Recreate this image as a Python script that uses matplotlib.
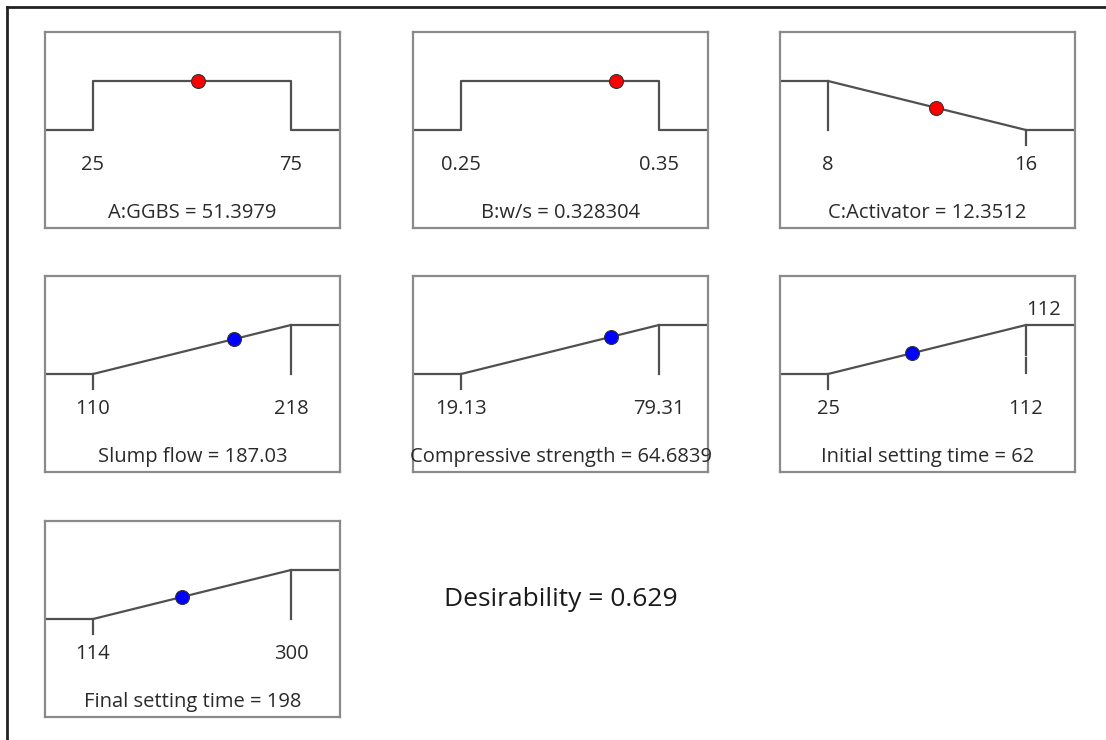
import numpy as np
import matplotlib.pyplot as plt

plt.rcParams['font.family'] = ['Open Sans', 'DejaVu Sans']

# factors (in range) and responses (ramps)
names = ["A:GGBS", "B:w/s", "C:Activator", "Slump flow", "Compressive strength",
         "Initial setting time", "Final setting time"]
low = [25, 0.25, 8, 110, 19.13, 25, 114]
high = [75, 0.35, 16, 218, 79.31, 112, 300]
low_text = ["25", "0.25", "8", "110", "19.13", "25", "114"]
high_text = ["75", "0.35", "16", "218", "79.31", "112", "300"]
value = [51.3979, 0.328304, 12.3512, 187.03, 64.6839, 62, 198]
value_text = ["51.3979", "0.328304", "12.3512", "187.03", "64.6839", "62", "198"]
goal = ["range", "range", "min", "max", "max", "max", "max"]
desirability = 0.629

W, H = 1106, 740
fig = plt.figure(figsize=(W / 100, H / 100), dpi=100)

# outer frame (left and top only)
fig.add_artist(plt.Line2D([7 / W, 7 / W], [0, 1 - 7 / H], color="#222222", lw=2))
fig.add_artist(plt.Line2D([7 / W, 1], [1 - 7 / H, 1 - 7 / H], color="#222222", lw=2))

cols = [45, 413, 780]
rows = [32, 276, 521]
pw, ph = 295, 196
f_lo, f_hi = 48 / pw, 246 / pw
line_c = "#505050"
box_c = "#8a8a8a"
txt_c = "#2a2a2a"

for i in range(7):
    x0 = cols[i % 3]
    y0 = rows[i // 3]
    ax = fig.add_axes([x0 / W, 1 - (y0 + ph) / H, pw / W, ph / H])
    lo, hi = low[i], high[i]
    span = (hi - lo) / (f_hi - f_lo)
    xmin = lo - f_lo * span
    xmax = xmin + span
    ax.set_xlim(xmin, xmax)
    ax.set_ylim(-2, 2)
    ax.set_xticks([])
    ax.set_yticks([])
    for s in ax.spines.values():
        s.set_color(box_c)
        s.set_linewidth(1.6)

    if goal[i] == "range":
        xs = [xmin, lo, lo, hi, hi, xmax]
        ys = [0, 0, 1, 1, 0, 0]
        d = 1.0
    else:
        if goal[i] == "max":
            xs = [xmin, lo, hi, xmax]
            ys = [0, 0, 1, 1]
        else:
            xs = [xmin, lo, hi, xmax]
            ys = [1, 1, 0, 0]
        d = np.interp(value[i], [lo, hi], [ys[1], ys[2]])
        # limit ticks
        top_x = hi if goal[i] == "max" else lo
        bot_x = lo if goal[i] == "max" else hi
        ax.plot([bot_x, bot_x], [0, -0.3], color=line_c, lw=1.6)
        if i == 5:
            ax.plot([top_x, top_x], [1, 0.39], color=line_c, lw=1.6)
            ax.plot([top_x, top_x], [0.33, 0.02], color=line_c, lw=1.6)
            ax.text(top_x, 1.1, high_text[i], ha="left", va="bottom",
                    fontsize=14.5, color=txt_c)
        else:
            ax.plot([top_x, top_x], [1, 0], color=line_c, lw=1.6)
    ax.plot(xs, ys, color=line_c, lw=1.6)

    col = "red" if i < 3 else "blue"
    ax.plot(value[i], d, "o", ms=10, mfc=col, mec="#333333", mew=0.8, zorder=5)

    ax.text(lo, -0.72, low_text[i], ha="center", va="center", fontsize=14.5, color=txt_c)
    ax.text(hi, -0.72, high_text[i], ha="center", va="center", fontsize=14.5, color=txt_c)
    ax.text(0.5, 0.077, names[i] + " = " + value_text[i], transform=ax.transAxes,
            ha="center", va="center", fontsize=14.5, color=txt_c, clip_on=False)

fig.text(561 / W, 1 - 600 / H, "Desirability = %.3f" % desirability, ha="center",
         va="center", fontsize=19, color="#1a1a1a")

fig.savefig("out.png", dpi=100)
